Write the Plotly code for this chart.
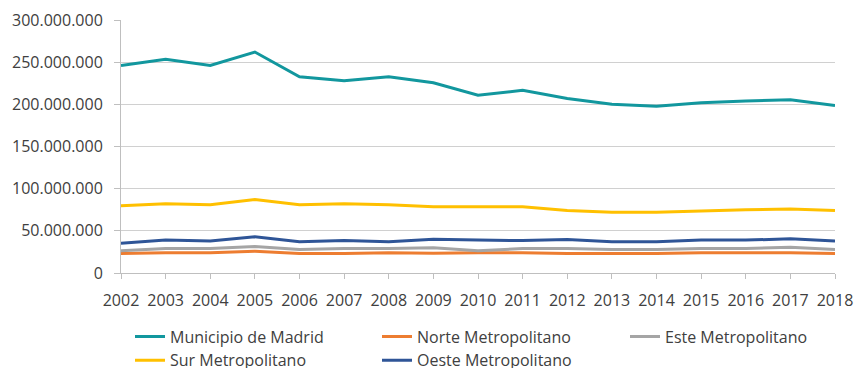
import plotly.graph_objects as go

years = list(range(2002, 2019))

madrid = [246, 253.5, 246, 262, 232.7, 228, 232.7, 225.6, 210.7, 216.7, 207, 200, 197.6, 202, 204, 205.5, 198.5]
norte = [23, 24, 24, 25.8, 23, 23, 24, 23.4, 24, 24, 23, 23, 23, 24, 24, 24, 23]
este = [26.5, 29, 29, 31.3, 28, 29, 29, 30, 26.5, 29, 29, 27.8, 27.8, 29, 29, 30.5, 28]
sur = [79.8, 82, 81, 87, 81, 82, 81, 78.5, 78.5, 78.5, 74, 72, 72, 73.8, 75, 76, 74]
oeste = [35.3, 39, 38, 43, 37, 38.5, 37, 40, 39, 38.5, 39.7, 37, 37, 39, 39, 40.5, 38]

# name, values, colour, legend column
series = [
    ("Municipio de Madrid", madrid, "#12979E", "legend"),
    ("Norte Metropolitano", norte, "#ED7D31", "legend2"),
    ("Este Metropolitano", este, "#A5A5A5", "legend3"),
    ("Sur Metropolitano", sur, "#FFC000", "legend"),
    ("Oeste Metropolitano", oeste, "#2F5597", "legend2"),
]

font_family = "Open Sans, Noto Sans, sans-serif"
text_color = "#404040"

fig = go.Figure()
for name, vals, color, leg in series:
    fig.add_trace(go.Scatter(
        x=years,
        y=[v * 1_000_000 for v in vals],
        mode="lines",
        name=name,
        legend=leg,
        line=dict(color=color, width=3),
    ))


def legend_column(x_px):
    return dict(
        orientation="v",
        xref="container",
        yref="container",
        x=x_px / 856,
        y=1 - 319.5 / 368,
        xanchor="left",
        yanchor="top",
        font=dict(family=font_family, size=16, color=text_color),
        tracegroupgap=0,
        itemwidth=30,
        bgcolor="rgba(0,0,0,0)",
    )


# plot area: 121..835 px wide, 20..273 px tall
fig.update_layout(
    width=856,
    height=368,
    margin=dict(l=121, r=21, t=20, b=95, autoexpand=False),
    paper_bgcolor="white",
    plot_bgcolor="white",
    separators=",.",
    font=dict(family=font_family, size=16, color=text_color),
    showlegend=True,
    legend=legend_column(130),
    legend2=legend_column(377),
    legend3=legend_column(625),
    xaxis=dict(
        range=[2002, 2018],
        tickmode="linear",
        tick0=2002,
        dtick=1,
        showgrid=False,
        showline=True,
        linecolor="#BFBFBF",
        linewidth=1,
        ticks="outside",
        ticklen=5,
        tickcolor="#BFBFBF",
        ticklabelstandoff=8,
        tickfont=dict(size=16, color=text_color),
        zeroline=False,
    ),
    yaxis=dict(
        range=[0, 300_000_000],
        tickmode="linear",
        tick0=0,
        dtick=50_000_000,
        tickformat=",d",
        showgrid=True,
        gridcolor="#D0D0D0",
        gridwidth=1,
        showline=True,
        linecolor="#BFBFBF",
        linewidth=1,
        ticks="outside",
        ticklen=6,
        tickcolor="#BFBFBF",
        ticklabelstandoff=8,
        tickfont=dict(size=16, color=text_color),
        zeroline=False,
    ),
)

fig.write_html("out.html")
